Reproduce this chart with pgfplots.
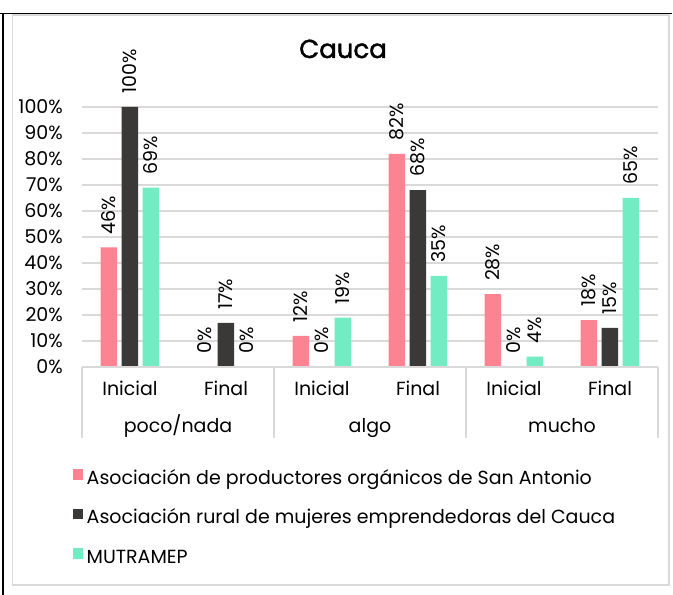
\documentclass[border=0pt]{standalone}
\usepackage{fontspec}
\setmainfont{Poppins}
\newfontfamily\titlefont{Poppins}[BoldFont=Poppins, BoldFeatures={FakeBold=1.6}]
\usepackage{pgfplots}
\pgfplotsset{compat=1.18}
\definecolor{cpink}{RGB}{252,131,146}
\definecolor{cdark}{RGB}{59,56,56}
\definecolor{cteal}{RGB}{114,236,194}
\definecolor{cgrid}{RGB}{217,217,217}
\pgfplotsset{
  sqlegend/.style={legend image code/.code={\fill[##1] (0pt,0pt) rectangle (10.5pt,10.5pt);}},
}
\begin{document}
\begin{tikzpicture}[x=1pt,y=1pt]
\path[use as bounding box] (0,0) rectangle (673,595);
\draw[black,line width=1.6pt] (0,581.5) -- (672,581.5);
\draw[black,line width=2pt] (3,0) -- (3,582);
\draw[cgrid,line width=1.5pt] (12.5,10) rectangle (669,580);
\node[anchor=base,font=\titlefont\bfseries\fontsize{26}{31}\selectfont] at (343,537) {Cauca};
\begin{axis}[
  at={(82pt,228pt)}, anchor=south west, scale only axis,
  width=576pt, height=260pt,
  ybar=4.5pt, bar width=16.5pt,
  xmin=-0.5, xmax=5.5, ymin=0, ymax=100,
  axis line style={draw=none},
  ymajorgrids, grid style={cgrid,line width=1.5pt},
  major tick length=0pt,
  ytick={0,10,...,100},
  yticklabel={\pgfmathprintnumber{\tick}\%},
  yticklabel style={anchor=east, inner sep=0pt, xshift=-19pt},
  xtick={0,...,5},
  xticklabels={Inicial,Final,Inicial,Final,Inicial,Final},
  xticklabel style={anchor=base, inner sep=0pt, yshift=-29pt},
  tick label style={font=\fontsize{19}{23}\selectfont},
  /pgf/number format/assume math mode=true,
  nodes near coords={\pgfmathprintnumber{\pgfplotspointmeta}\%},
  every node near coord/.append style={rotate=90, anchor=west, inner xsep=13pt, inner ysep=0pt, font=\fontsize{19}{23}\selectfont, text=black},
  sqlegend,
  legend style={at={(axis description cs:-0.0165,-0.3923)}, anchor=north west,
    draw=none, fill=none, inner sep=0pt, font=\fontsize{19}{23}\selectfont,
    nodes={inner sep=0pt, text height=14pt, text depth=5pt},
    row sep=19.5pt, column sep=3.5pt, cells={anchor=west}},
  legend cell align=left,
  clip=false,
]
\addplot[fill=cpink, draw=none] coordinates {(0,46) (1,0) (2,12) (3,82) (4,28) (5,18)};
\addlegendentry{Asociación de productores orgánicos de San Antonio}
\addplot[fill=cdark, draw=none] coordinates {(0,100) (1,17) (2,0) (3,68) (4,0) (5,15)};
\addlegendentry{Asociación rural de mujeres emprendedoras del Cauca}
\addplot[fill=cteal, draw=none] coordinates {(0,69) (1,0) (2,19) (3,35) (4,4) (5,65)};
\addlegendentry{MUTRAMEP}
\draw[cgrid,line width=1.5pt] (axis cs:-0.5,0) -- (axis cs:5.5,0);
\draw[cgrid,line width=1.5pt] (axis cs:-0.5,0) -- ++(0pt,-71pt);
\draw[cgrid,line width=1.5pt] (axis cs:1.5,0) -- ++(0pt,-71pt);
\draw[cgrid,line width=1.5pt] (axis cs:3.5,0) -- ++(0pt,-71pt);
\draw[cgrid,line width=1.5pt] (axis cs:5.5,0) -- ++(0pt,-71pt);
\node[anchor=base,yshift=-66pt,font=\fontsize{19}{23}\selectfont] at (axis cs:0.5,0) {poco/nada};
\node[anchor=base,yshift=-66pt,font=\fontsize{19}{23}\selectfont] at (axis cs:2.5,0) {algo};
\node[anchor=base,yshift=-66pt,font=\fontsize{19}{23}\selectfont] at (axis cs:4.5,0) {mucho};
\end{axis}
\end{tikzpicture}
\end{document}
